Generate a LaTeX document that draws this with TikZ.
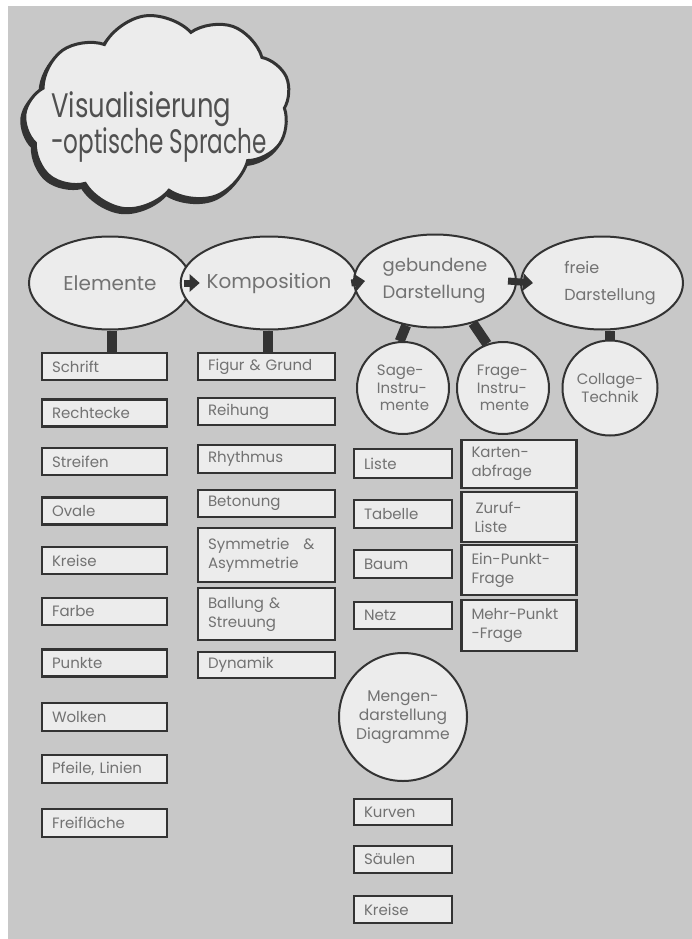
\documentclass[tikz,border=0pt]{standalone}
\usepackage{fontspec}
\setmainfont{Poppins}
\newfontfamily\titlefontA{Poppins}[FakeStretch=0.76]
\newfontfamily\titlefontB{Poppins}[FakeStretch=0.68]
\usetikzlibrary{shapes.geometric,shapes.symbols,arrows.meta}
\definecolor{paper}{HTML}{C8C8C8}
\definecolor{shapefill}{HTML}{ECECEC}
\definecolor{ink}{HTML}{333333}
\definecolor{txt}{HTML}{727272}
\definecolor{titletxt}{HTML}{505050}
\begin{document}
\begin{tikzpicture}[x=1pt,y=-1pt,
  box/.style={draw=ink, fill=shapefill, line width=2.5pt, rectangle, inner xsep=10pt, inner ysep=0pt,
    align=left, text=txt, font=\fontsize{15}{19}\selectfont},
  cA/.style={box, text width=105pt},
  cB/.style={box, text width=117pt},
  cC/.style={box, text width=78pt},
  cD/.style={box, text width=95pt},
  big/.style={ellipse, draw=ink, fill=shapefill, line width=2pt, minimum width=162pt, minimum height=93pt,
    inner sep=0pt, text=txt, align=left},
  rund/.style={circle, draw=ink, fill=shapefill, line width=2pt, minimum size=92pt, inner sep=0pt,
    text=txt, align=left, font=\fontsize{15}{17.5}\selectfont},
  bar/.style={draw=ink, line width=10pt},
  arr/.style={draw=ink, line width=7pt, -{Triangle[length=10pt,width=17pt]}},
  cloudshape/.style={cloud, cloud puffs=9, cloud puff arc=110, minimum width=268pt, minimum height=194pt, line width=3pt}
]
\useasboundingbox (0,0) rectangle (692,939);
\fill[white] (0,0) rectangle (692,939);
\fill[paper] (8,6) rectangle (692,939);

% cloud
\node[cloudshape, draw=ink, fill=ink, rotate=8] (cloudshadow) at (155,116) {};
\node[cloudshape, draw=ink, fill=shapefill, rotate=8] (cloud) at (158,112) {};
\node[align=left, text=titletxt, anchor=west, inner sep=0pt] (title) at (51,127)
  {\titlefontA\fontsize{34}{40}\selectfont Visualisierung\\\titlefontB\fontsize{34}{40}\selectfont -optische Sprache};

% main ellipses
\node[big, font=\fontsize{20}{26}\selectfont] (E) at (110,283) {Elemente};
\node[big, font=\fontsize{20}{26}\selectfont] (K) at (269,283) {Komposition};
\node[big, font=\fontsize{18}{27}\selectfont] (G) at (435,281) {gebundene\\Darstellung};
\node[big, font=\fontsize{16}{27}\selectfont] (F) at (602,283) {\hspace*{16pt}freie\\\hspace*{16pt}Darstellung};

\draw[arr] ([xshift=-8pt]E.east) -- ([xshift=20pt]K.west);
\draw[arr] ([xshift=-7pt]K.east) -- ([xshift=12pt]G.west);
\draw[arr] ([xshift=-9pt]G.east) -- ([xshift=13pt]F.west);

% circles
\node[rund] (sage) at (403,388) {Sage-\\Instru-\\\hspace*{3pt}mente};
\node[rund] (frage) at (503,388) {Frage-\\Instru-\\\hspace*{3pt}mente};
\node[rund, minimum size=95pt, align=center] (collage) at (610,388) {Collage-\\Technik};
\node[rund, minimum size=128pt, align=center, font=\fontsize{15.5}{19}\selectfont] (mengen) at (403,717) {Mengen-\\darstellung\\Diagramme};

% column Elemente
\node[cA, minimum height=27pt] (schrift) at (104.5,366.5) {Schrift};
\node[cA, minimum height=27pt] (rechtecke) at (104.5,413) {Rechtecke};
\node[cA, minimum height=27pt] (streifen) at (104.5,461.5) {Streifen};
\node[cA, minimum height=27pt] (ovale) at (104.5,511) {Ovale};
\node[cA, minimum height=27pt] (kreiseA) at (104.5,560.5) {Kreise};
\node[cA, minimum height=27pt] (farbe) at (104.5,611.5) {Farbe};
\node[cA, minimum height=27pt] (punkte) at (104.5,663) {Punkte};
\node[cA, minimum height=28pt] (wolken) at (104.5,717) {Wolken};
\node[cA, minimum height=28pt] (pfeile) at (104.5,769) {Pfeile, Linien};
\node[cA, minimum height=28pt] (freiflaeche) at (104.5,823) {Freifläche};

% column Komposition
\node[cB, minimum height=27pt] (figur) at (266.5,366.5) {Figur \& Grund};
\node[cB, minimum height=27pt] (reihung) at (266.5,411.5) {Reihung};
\node[cB, minimum height=28pt] (rhythmus) at (266.5,459) {Rhythmus};
\node[cB, minimum height=27pt] (betonung) at (266.5,503.5) {Betonung};
\node[cB, minimum height=54pt] (symmetrie) at (266.5,555) {Symmetrie\hspace{14pt}\&\\Asymmetrie};
\node[cB, minimum height=52pt] (ballung) at (266.5,614) {Ballung \&\\Streuung};
\node[cB, minimum height=26pt] (dynamik) at (266.5,665) {Dynamik};

% column gebundene Darstellung
\node[cC, minimum height=29pt] (liste) at (403,463.5) {Liste};
\node[cC, minimum height=28pt] (tabelle) at (403,514) {Tabelle};
\node[cC, minimum height=28pt] (baum) at (403,564) {Baum};
\node[cC, minimum height=27pt] (netz) at (403,615.5) {Netz};
\node[cC, minimum height=26pt] (kurven) at (403,812) {Kurven};
\node[cC, minimum height=27pt] (saeulen) at (403,859.5) {Säulen};
\node[cC, minimum height=27pt] (kreiseC) at (403,909.5) {Kreise};

% column Frage-Instrumente
\node[cD, minimum height=48pt] (karten) at (519,464) {Karten-\\abfrage};
\node[cD, minimum height=50pt] (zuruf) at (519,517) {\hspace*{4pt}Zuruf-\\\hspace*{3pt}Liste};
\node[cD, minimum height=50pt] (einpunkt) at (519,570) {Ein-Punkt-\\Frage};
\node[cD, minimum height=51pt] (mehrpunkt) at (519,625.5) {Mehr-Punkt\\-Frage};

% connecting bars
\draw[bar] ([xshift=7pt]schrift.north) -- ([xshift=7pt]schrift.north |- E.south);
\draw[bar] ([xshift=1pt]figur.north) -- ([xshift=1pt]figur.north |- K.south);
\draw[bar] (G.237) -- (sage.94);
\draw[bar] (G.312) -- (frage.110);
\draw[bar] (collage.north) -- (collage.north |- F.south);
\end{tikzpicture}
\end{document}
